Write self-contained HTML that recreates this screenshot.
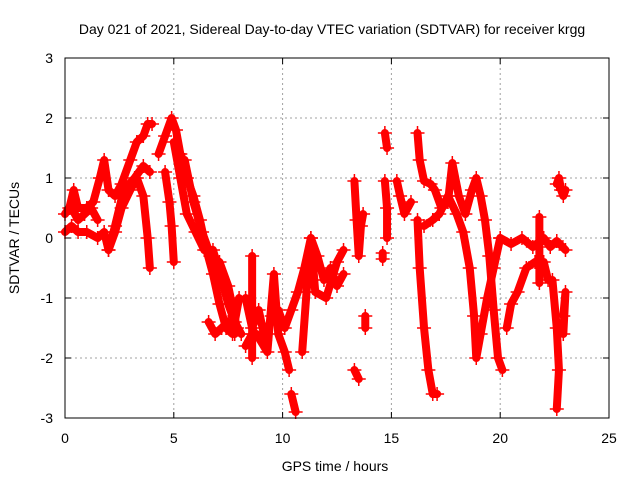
<!DOCTYPE html>
<html><head><meta charset="utf-8"><style>
body{margin:0;background:#fff;}
svg{display:block;font-family:"Liberation Sans",sans-serif;}
</style></head><body>
<svg id="chart" width="640" height="480" xmlns="http://www.w3.org/2000/svg">
<rect width="640" height="480" fill="#fff"/>
<text x="332" y="34" font-size="14" text-anchor="middle">Day 021 of 2021, Sidereal Day-to-day VTEC variation (SDTVAR) for receiver krgg</text>
<text x="335" y="471" font-size="14" text-anchor="middle">GPS time / hours</text>
<text transform="translate(19,238) rotate(-90)" font-size="14" text-anchor="middle">SDTVAR / TECUs</text>
<g id="grid"></g><g id="ticks"></g><g id="marks"></g>
<rect x="65" y="58" width="544" height="360" fill="none" stroke="#000" stroke-width="1"/>
</svg>
<script>
const xTicks=[0,5,10,15,20,25];
const yTicks=[-3,-2,-1,0,1,2,3];
const traceX=[
[0,0.2,0.4,0.6,1,1.3,1.6,1.8,2.0,2.3,2.6,3.0,3.3,3.6,3.8,4.0],
[0,0.3,0.6,1,1.5,1.8,2.0,2.3,2.6,3,3.3,3.6,3.8,3.9],
[2.0,2.3,2.7,3.2,3.6,3.9],
[0.3,0.6,0.9,1.2,1.5],
[4.3,4.6,4.9,5.1,5.3,5.6,5.9,6.2,6.5,6.8,7.1,7.4,7.7,8.0],
[4.6,4.8,4.9,5.0],
[5.0,5.3,5.6,6.0,6.4,6.8,7.2,7.5,7.8,8.1],
[5.5,5.9,6.3,6.7,7.1,7.5,7.9],
[6.6,6.9,7.2,7.5,7.8],
[8.3,8.6,8.9,9.2,9.5,9.8,10.1,10.4,10.7,11.0,11.3,11.6,11.9,12.2,12.5,12.8],
[8.3,8.6,8.8,9.3,9.6,9.8,10.1,10.3],
[8.6,8.6],
[10.4,10.6],
[10.9,11.1,11.3,11.5,12,12.5,12.8],
[13.3,13.4,13.5,13.6,13.7],
[13.3,13.5],
[13.8,13.8],
[14.7,14.8],
[14.7,14.8,14.8],
[15.25,15.4,15.6,15.9],
[14.6,14.6],
[16.2,16.3,16.5,16.8,17.0,17.3,17.6,17.8,18.1,18.4,18.7,18.9,19.1,19.3,19.5,19.7,19.9,20.1],
[16.2,16.3,16.5,16.7,16.9,17.1],
[16.5,16.9,17.2,17.6,18.0,18.3,18.6,18.8,18.9,19.1,19.4,19.7,20.0],
[20.0,20.5,21.0,21.5,22.0,22.3,22.6,23.0],
[20.3,20.5,20.8,21.2,21.6,22.0,22.2],
[21.8,21.8],
[22.4,22.6,22.7,22.6],
[22.9,23.0,22.9],
[22.6,22.7,22.8,22.9,23.0]
];
const traceY=[
[0.4,0.5,0.8,0.5,0.5,0.6,1.0,1.3,0.8,0.7,0.9,1.3,1.6,1.7,1.9,1.9],
[0.1,0.2,0.1,0.1,0.0,0.1,-0.2,0.1,0.5,0.8,1.0,0.7,0.0,-0.5],
[-0.2,0.2,0.8,1.0,1.2,1.1],
[0.5,0.3,0.4,0.5,0.3],
[1.4,1.7,2.0,1.8,1.4,1.0,0.7,0.3,-0.2,-0.6,-1.1,-1.5,-1.6,-1.0],
[1.1,0.6,0.2,-0.4],
[1.6,1.0,0.4,0.1,-0.2,-0.2,-0.7,-1.1,-1.4,-1.6],
[1.3,0.6,0.1,-0.3,-0.4,-0.8,-1.5],
[-1.4,-1.6,-1.5,-1.4,-1.6],
[-1.0,-1.5,-1.2,-1.7,-1.3,-1.2,-1.5,-1.2,-0.9,-0.5,0.0,-0.3,-0.7,-0.5,-0.8,-0.6],
[-1.8,-1.6,-1.6,-1.9,-0.6,-1.6,-1.9,-2.2],
[-0.3,-2.0],
[-2.6,-2.9],
[-1.9,-0.9,0.0,-0.9,-1.0,-0.4,-0.2],
[0.95,0.3,-0.3,0.2,0.4],
[-2.2,-2.35],
[-1.3,-1.5],
[1.75,1.5],
[0.95,0.5,0.0],
[0.95,0.7,0.4,0.6],
[-0.25,-0.35],
[1.75,1.3,0.95,0.9,0.8,0.5,0.6,1.25,0.7,0.4,0.8,1.0,0.7,0.3,-0.3,-1.2,-2.0,-2.2],
[0.3,-0.5,-1.5,-2.2,-2.6,-2.6],
[0.2,0.3,0.4,0.7,0.4,0.1,-0.5,-1.3,-2.0,-1.6,-1.0,-0.5,0.0],
[0.0,-0.1,0.0,-0.15,0.0,-0.15,-0.05,-0.2],
[-1.5,-1.1,-0.9,-0.5,-0.4,-0.4,-0.7],
[0.35,-0.75],
[-0.7,-1.5,-2.2,-2.85],
[-1.3,-0.9,-1.6],
[0.9,1.0,0.8,0.7,0.8]
];
const NS="http://www.w3.org/2000/svg";
const xs=v=>65+v*544/25;
const ys=v=>238-v*60;
function mk(t,a,p){const e=document.createElementNS(NS,t);for(const k in a)e.setAttribute(k,a[k]);p.appendChild(e);return e;}
const grid=document.getElementById('grid'),ticks=document.getElementById('ticks'),marks=document.getElementById('marks');
xTicks.forEach(v=>{
  if(v>0&&v<25){const l=mk('line',{x1:xs(v),x2:xs(v),y1:58,y2:418,stroke:'#a0a0a0','stroke-dasharray':'2,3'},grid);
  
  }
  mk('line',{x1:xs(v),x2:xs(v),y1:418,y2:412,stroke:'#000'},ticks);
  mk('line',{x1:xs(v),x2:xs(v),y1:58,y2:64,stroke:'#000'},ticks);
  const t=mk('text',{x:xs(v),y:443,'font-size':14,'text-anchor':'middle'},ticks);t.textContent=v;
  
  
});
yTicks.forEach(v=>{
  if(v>-3&&v<3){const l=mk('line',{x1:65,x2:609,y1:ys(v),y2:ys(v),stroke:'#a0a0a0','stroke-dasharray':'2,3'},grid);
  
  }
  mk('line',{x1:65,x2:71,y1:ys(v),y2:ys(v),stroke:'#000'},ticks);
  mk('line',{x1:609,x2:603,y1:ys(v),y2:ys(v),stroke:'#000'},ticks);
  const t=mk('text',{x:53,y:ys(v)+5,'font-size':14,'text-anchor':'end'},ticks);t.textContent=v;
  
  
});
traceX.forEach((tx,i)=>{
  const ty=traceY[i];
  const pts=tx.map((x,j)=>xs(x)+','+ys(ty[j])).join(' ');
  const pl=mk('polyline',{points:pts,fill:'none',stroke:'#ff0000','stroke-width':8,'stroke-linejoin':'round','stroke-linecap':'round'},marks);
  
  
  tx.forEach((x,j)=>{
    const cx=xs(x),cy=ys(ty[j]);
    const p=mk('path',{d:`M${cx-7},${cy}H${cx+7}M${cx},${cy-7}V${cy+7}`,stroke:'#ff0000','stroke-width':1.5},marks);
    
    
  });
});
</script>
</body></html>
